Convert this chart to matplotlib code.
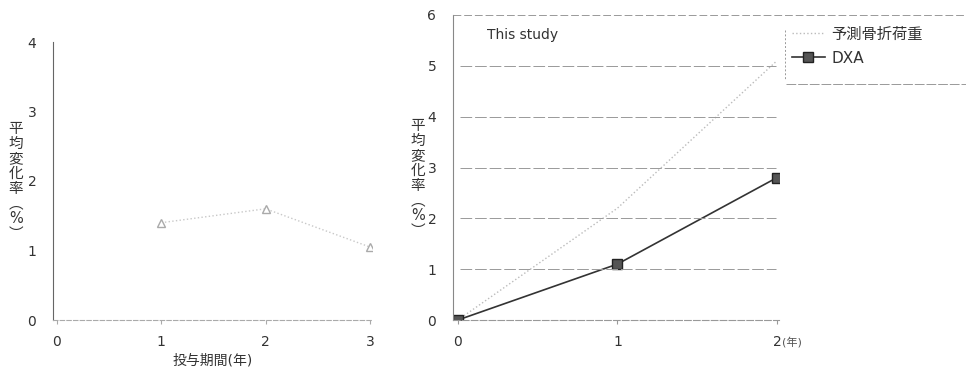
import matplotlib.pyplot as plt
from matplotlib.lines import Line2D

plt.rcParams['font.family'] = ['DejaVu Sans', 'Noto Sans CJK JP']

# left panel: 投与期間 vs 平均変化率
left_years = [1, 2, 3]
left_change = [1.4, 1.6, 1.05]
left_xticks = [0, 1, 2, 3]
left_yticks = [0, 1, 2, 3, 4]

# right panel: This study
years = [0, 1, 2]
pred_load = [0, 2.2, 5.1]
dxa = [0, 1.1, 2.8]
right_yticks = [0, 1, 2, 3, 4, 5, 6]
right_xlabels = ['0', '1', '2']

ylab = '平\n均\n変\n化\n率\n︵\n%\n︶'

fig = plt.figure(figsize=(9.66, 3.73), dpi=100)
W, H = 966, 373

def box(l, r, t, b):
    return [l / W, 1 - b / H, (r - l) / W, (b - t) / H]

# ---- left chart
ax1 = fig.add_axes(box(53, 372, 42, 320))
ax1.plot(left_years, left_change, ':', color='#c8c8c8', lw=1,
         marker='^', mfc='white', mec='#aaaaaa', ms=6)
ax1.set_xlim(-0.038, 3.02)
ax1.set_ylim(0, 4)
ax1.set_xticks(left_xticks)
ax1.set_yticks(left_yticks)
for s in ['top', 'right']:
    ax1.spines[s].set_visible(False)
ax1.spines['left'].set_color('#666666')
ax1.spines['left'].set_linewidth(0.8)
ax1.spines['bottom'].set_color('#aaaaaa')
ax1.spines['bottom'].set_linestyle((0, (4, 2)))
ax1.tick_params(axis='y', length=0, pad=12, labelsize=10, labelcolor='#333333')
ax1.tick_params(axis='x', length=3, color='#aaaaaa', pad=8, labelsize=10,
                labelcolor='#333333')
ax1.set_xlabel('投与期間(年)', fontsize=10, color='#333333', labelpad=3)
fig.text(16 / W, 1 - 181 / H, ylab, fontsize=10.5, color='#333333',
         ha='center', va='center', linespacing=1.0)

# ---- right chart
ax2 = fig.add_axes(box(453, 779, 15, 320))
ax2.plot(years, pred_load, ':', color='#bbbbbb', lw=1, label='予測骨折荷重')
ax2.plot(years, dxa, '-', color='#333333', lw=1.2, marker='s', ms=7,
         mfc='#555555', mec='#222222', label='DXA')
ax2.set_xlim(-0.031, 2.013)
ax2.set_ylim(0, 6)
ax2.set_xticks(years)
ax2.set_xticklabels(right_xlabels)
ax2.set_yticks(right_yticks)
for y in right_yticks[1:-1]:
    ax2.axhline(y, xmin=0.02, xmax=0.99, color='#999999', lw=0.7,
                ls=(0, (12, 3)))
for s in ['right', 'top']:
    ax2.spines[s].set_visible(False)
ax2.spines['left'].set_color('#888888')
ax2.spines['left'].set_linestyle((0, (3, 1)))
ax2.spines['bottom'].set_color('#999999')
ax2.spines['bottom'].set_linestyle((0, (6, 2)))
ax2.tick_params(axis='y', length=0, pad=12, labelsize=10, labelcolor='#333333')
ax2.tick_params(axis='x', length=3, color='#999999', pad=8, labelsize=10,
                labelcolor='#333333')
ax2.text(2.03, -0.43, '(年)', fontsize=8, color='#555555', ha='left',
         va='center', clip_on=False)
ax2.text(0.18, 5.6, 'This study', fontsize=10, color='#333333', va='center')
fig.text(418 / W, 1 - 178 / H, ylab, fontsize=10.5, color='#333333',
         ha='center', va='center', linespacing=1.0)

leg = ax2.legend(loc='upper left', bbox_to_anchor=(787 / W, 1 - 22 / H),
                 bbox_transform=fig.transFigure, frameon=False,
                 fontsize=11, handlelength=2.2, handletextpad=0.4,
                 borderaxespad=0, borderpad=0.3, labelspacing=0.6)
for t in leg.get_texts():
    t.set_color('#333333')

# top border of the plot running on into the legend box, plus legend edges
fig.add_artist(Line2D([453 / W, 1.0], [1 - 15 / H, 1 - 15 / H],
                      color='#999999', lw=0.7, ls=(0, (8, 3))))
fig.add_artist(Line2D([785 / W, 785 / W], [1 - 30 / H, 1 - 80 / H],
                      color='#999999', lw=0.7, ls=(0, (2, 2))))
fig.add_artist(Line2D([786 / W, 1.0], [1 - 84 / H, 1 - 84 / H],
                      color='#999999', lw=0.7, ls=(0, (10, 2))))

fig.savefig('out.png', dpi=100, facecolor='white')
